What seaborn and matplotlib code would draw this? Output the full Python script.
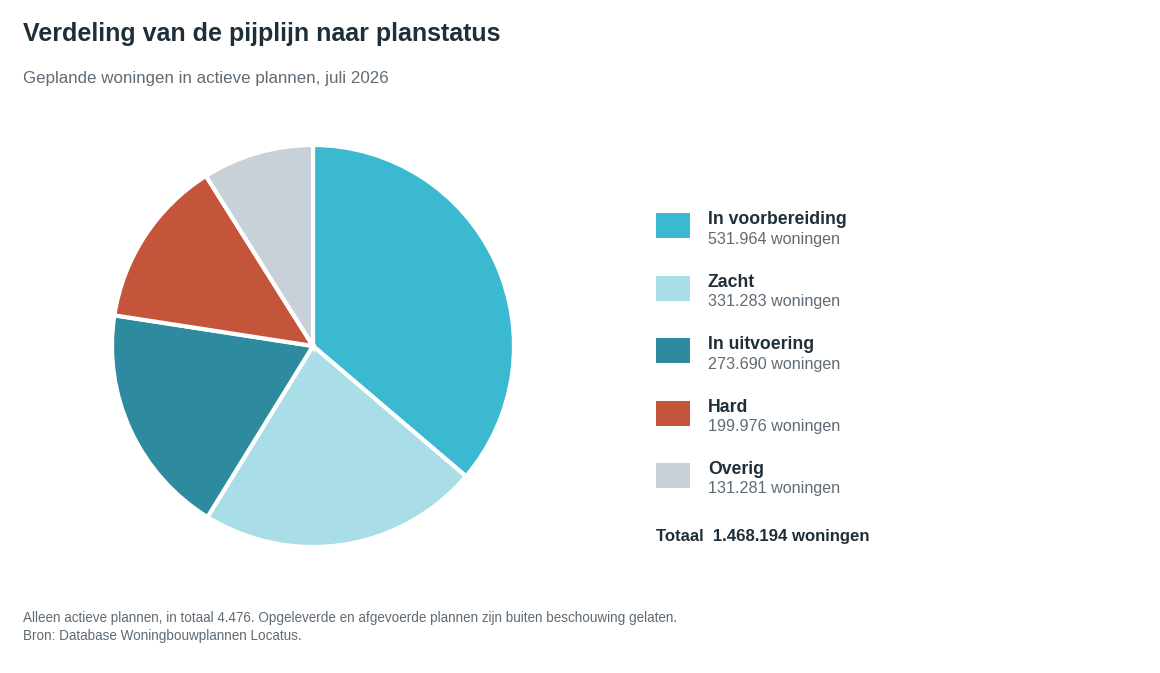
import matplotlib
matplotlib.use("Agg")
import matplotlib.pyplot as plt
import seaborn as sns

sns.set_theme(style="white")
plt.rcParams['font.family'] = ['Liberation Sans', 'DejaVu Sans']

# Data
statussen = ["In voorbereiding", "Zacht", "In uitvoering", "Hard", "Overig"]
woningen = [531964, 331283, 273690, 199976, 131281]
kleuren = ["#3bb9d1", "#a9dde7", "#2e8a9e", "#c4553a", "#c9d1d8"]

DARK = "#1f2f3a"
GREY = "#5f6b75"

W, H = 1160, 673
fig = plt.figure(figsize=(W / 100, H / 100), dpi=100)

def fx(px):
    return px / W

def fy(py):
    return 1 - py / H

# pie
cx, cy, r = 313, 346, 201
ax = fig.add_axes([fx(cx - r), fy(cy + r), 2 * r / W, 2 * r / H])
ax.pie(woningen, colors=kleuren, startangle=90, counterclock=False,
       radius=1, wedgeprops=dict(edgecolor="white", linewidth=3))
ax.set_xlim(-1.0, 1.0)
ax.set_ylim(-1.0, 1.0)
ax.set_aspect("equal")
ax.axis("off")

# titles
fig.text(fx(23), fy(34), "Verdeling van de pijplijn naar planstatus",
         fontsize=18, fontweight="bold", color=DARK, va="center", ha="left")
fig.text(fx(23), fy(78), "Geplande woningen in actieve plannen, juli 2026",
         fontsize=12.2, color=GREY, va="center", ha="left")

# legend
def fmt(n):
    return f"{n:,}".replace(",", ".")

for i, (lab, val, col) in enumerate(zip(statussen, woningen, kleuren)):
    y0 = 213 + i * 62.5
    fig.patches.append(plt.Rectangle((fx(656), fy(y0 + 25)), 34 / W, 25 / H,
                                     transform=fig.transFigure, facecolor=col,
                                     edgecolor="none"))
    fig.text(fx(708), fy(y0 + 7), lab, fontsize=12.7, fontweight="bold",
             color=DARK, va="center", ha="left")
    fig.text(fx(708), fy(y0 + 26), fmt(val) + " woningen", fontsize=11.6,
             color=GREY, va="center", ha="left")

fig.text(fx(656), fy(536), "Totaal  " + fmt(sum(woningen)) + " woningen",
         fontsize=12.1, fontweight="bold", color=DARK, va="center", ha="left")

# footer
fig.text(fx(23), fy(618), "Alleen actieve plannen, in totaal 4.476. Opgeleverde en afgevoerde plannen zijn buiten beschouwing gelaten.",
         fontsize=9.75, color=GREY, va="center", ha="left")
fig.text(fx(23), fy(636), "Bron: Database Woningbouwplannen Locatus.",
         fontsize=9.75, color=GREY, va="center", ha="left")

fig.savefig("out.png", dpi=100, facecolor="white")
